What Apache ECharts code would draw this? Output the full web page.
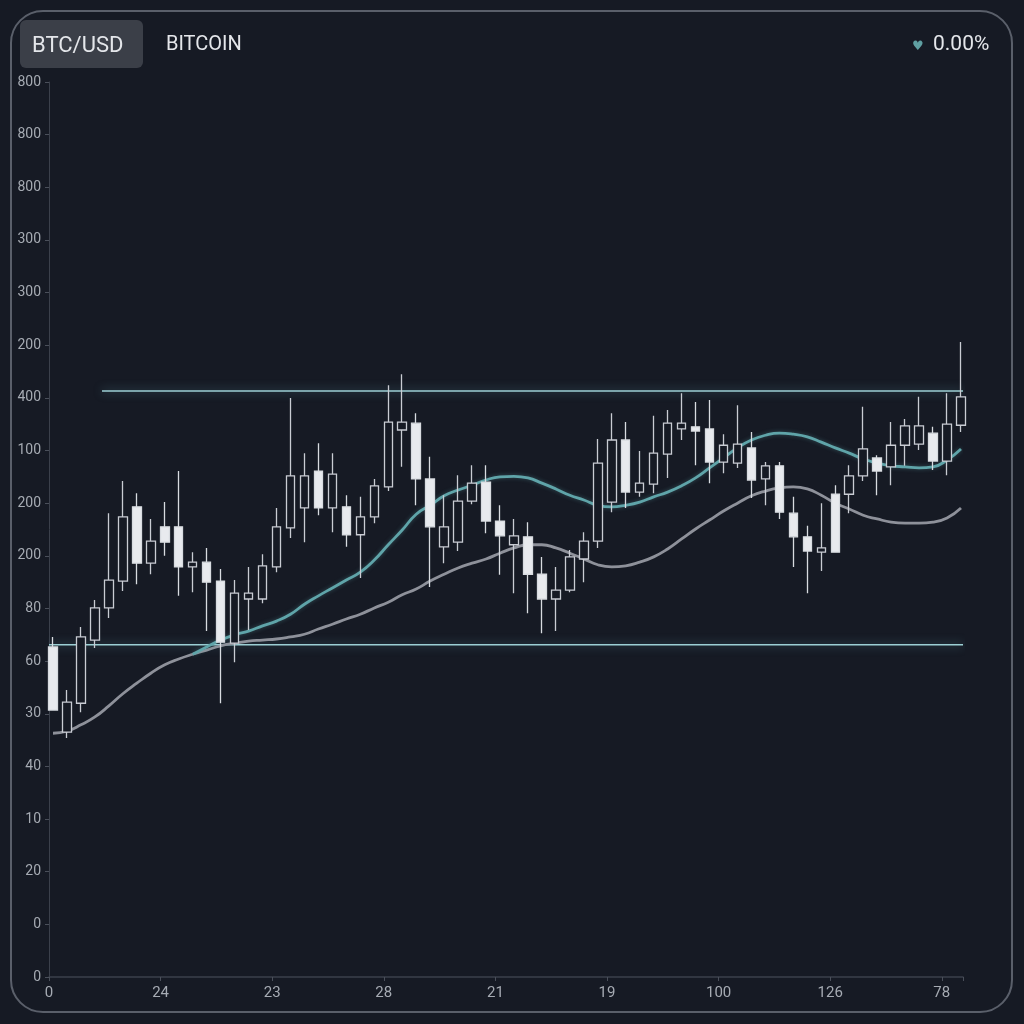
<!DOCTYPE html>
<html>
<head>
<meta charset="utf-8">
<script src="https://cdn.jsdelivr.net/npm/echarts@6/dist/echarts.min.js"></script>
<style>
html,body{margin:0;padding:0;background:#161a24;}
#c{width:1024px;height:1024px;}
</style>
</head>
<body>
<div id="c"></div>
<script>
// Tick labels (as printed in the reference)
const yLabels = ['0','0','20','10','40','30','60','80','200','200','100','400','200','300','300','800','800','800'];
const xLabels = ['0','24','23','28','21','19','100','126','78'];

// Candles: [open, close, low, high] in axis units (one unit per y tick)
const candles = [
  [6.27,5.07,5.07,6.46],[4.65,5.22,4.54,5.45],[5.20,6.46,5.03,6.65],[6.40,7.01,6.25,7.16],
  [7.01,7.54,6.82,8.81],[7.52,8.74,7.33,9.42],[8.93,7.86,7.46,9.19],[7.86,8.28,7.65,8.70],
  [8.55,8.26,8.00,9.02],[8.55,7.79,7.24,9.61],[7.79,7.88,7.31,8.07],[7.88,7.50,6.57,8.15],
  [7.52,6.36,5.20,7.75],[6.34,7.29,5.98,7.54],[7.18,7.29,6.59,7.79],[7.18,7.81,7.10,8.03],
  [7.79,8.55,7.69,8.91],[8.53,9.52,8.34,11.00],[8.91,9.52,8.26,9.95],[9.61,8.91,8.77,10.14],
  [8.91,9.55,8.45,9.95],[8.93,8.40,8.17,9.15],[8.40,8.74,7.58,9.12],[8.74,9.33,8.62,9.46],
  [9.31,10.54,9.23,11.24],[10.39,10.54,9.69,11.45],[10.52,9.46,8.96,10.71],[9.46,8.55,7.41,9.88],
  [8.17,8.55,7.86,9.15],[8.26,9.04,8.09,9.53],[9.04,9.38,8.98,9.72],[9.40,8.66,8.43,9.72],
  [8.66,8.38,7.64,8.96],[8.21,8.38,7.29,8.70],[8.36,7.65,6.91,8.64],[7.65,7.18,6.53,7.98],
  [7.18,7.35,6.57,7.79],[7.35,7.98,7.31,8.11],[7.94,8.28,7.50,8.45],[8.28,9.76,8.15,10.22],
  [9.02,10.20,8.83,10.71],[10.20,9.21,8.91,10.54],[9.21,9.38,9.12,9.99],[9.36,9.95,9.19,10.66],
  [9.93,10.52,9.48,10.77],[10.41,10.52,10.20,11.09],[10.45,10.37,9.72,10.92],[10.41,9.78,9.38,10.96],
  [9.78,10.10,9.57,10.31],[9.76,10.12,9.67,10.86],[10.05,9.44,9.10,10.35],[9.46,9.71,8.96,9.78],
  [9.71,8.83,8.70,9.78],[8.81,8.36,7.79,9.12],[8.36,8.09,7.29,8.57],[8.07,8.15,7.71,9.00],
  [9.17,8.07,8.07,9.34],[9.17,9.52,8.81,9.72],[9.52,10.03,9.42,10.83],[9.86,9.61,9.15,9.91],
  [9.69,10.10,9.34,10.54],[10.10,10.47,9.71,10.60],[10.12,10.47,10.01,11.02],[10.33,9.80,9.63,10.45],
  [9.80,10.50,9.53,11.09],[10.48,11.02,10.35,12.06]
];

// Moving averages
const maFast = [null,null,null,null,null,null,null,null,null,null,
  6.13,6.27,6.40,6.50,6.57,6.67,6.76,6.89,7.08,7.24,7.39,7.54,7.69,7.92,8.21,8.49,8.79,8.96,9.14,9.25,
  9.34,9.44,9.50,9.51,9.48,9.38,9.27,9.15,9.06,8.96,8.93,8.96,9.02,9.12,9.21,9.33,9.48,9.67,9.86,10.05,
  10.20,10.29,10.33,10.31,10.26,10.16,10.05,9.95,9.84,9.76,9.71,9.69,9.67,9.69,9.82,10.03];
const maSlow = [4.63,4.67,4.79,4.94,5.15,5.38,5.58,5.77,5.93,6.04,6.13,6.21,6.29,6.34,6.38,6.40,6.42,6.46,6.51,6.61,
  6.70,6.80,6.89,7.01,7.12,7.26,7.37,7.52,7.65,7.77,7.86,7.94,8.05,8.15,8.21,8.21,8.15,8.05,7.94,7.83,
  7.79,7.81,7.88,7.98,8.13,8.32,8.51,8.68,8.85,9.00,9.14,9.23,9.29,9.31,9.27,9.15,9.00,8.89,8.77,8.70,
  8.64,8.62,8.62,8.64,8.72,8.91];

// Horizontal levels (value, start on label axis, end on label axis)
const resistance = {value: 11.13, from: 0.475, to: 8.19};
const support = {value: 6.31, from: 0, to: 8.19};

const cats = candles.map((_, i) => String(i));

const chart = echarts.init(document.getElementById('c'));
const axisColor = '#3b404b';
const labelColor = '#a6abb3';
const glow = {shadowBlur: 10, shadowColor: 'rgba(130,210,220,0.55)'};

chart.setOption({
  backgroundColor: '#161a24',
  animation: false,
  graphic: [
    {type:'rect', shape:{x:11,y:11,width:1001,height:1001,r:32}, style:{fill:'none', stroke:'#5a5f6a', lineWidth:2}, z:0},
    {type:'rect', shape:{x:20,y:20,width:123,height:48,r:6}, style:{fill:'#3b3f48'}, z:1},
    {type:'text', left:32, top:35, style:{text:'BTC/USD', fill:'#e4e6ea', font:'22px Roboto, sans-serif'}, z:2},
    {type:'text', left:166, top:35, style:{text:'BITCOIN', fill:'#e4e6ea', font:'20px Roboto, sans-serif'}, z:2},
    {type:'text', left:912, top:40, style:{text:'♥', fill:'#5f9fa2', font:'13px "DejaVu Sans", sans-serif'}, z:2},
    {type:'text', left:933, top:34, style:{text:'0.00%', fill:'#e4e6ea', font:'21px Roboto, sans-serif'}, z:2}
  ],
  grid: [
    {left:49, right:61, top:82, bottom:47},
    {left:53, right:63, top:82, bottom:47}
  ],
  xAxis: [
    {type:'value', gridIndex:0, min:0, max:8.19, interval:1,
      axisLine:{show:true, lineStyle:{color:axisColor, width:1.5}},
      axisTick:{show:true, length:4, lineStyle:{color:'#4a4f5a'}},
      axisLabel:{color:labelColor, fontSize:15, margin:9, fontFamily:'Roboto, sans-serif',
        formatter:(v)=>{const i=Math.round(v); return Math.abs(v-i)<1e-6 && xLabels[i]!==undefined ? xLabels[i] : '';}},
      splitLine:{show:false}},
    {type:'category', gridIndex:1, data:cats, boundaryGap:false, show:false}
  ],
  yAxis: [
    {type:'value', gridIndex:0, min:0, max:17, interval:1,
      axisLine:{show:true, lineStyle:{color:axisColor, width:1}},
      axisTick:{show:true, length:4, lineStyle:{color:'#4a4f5a'}},
      axisLabel:{color:labelColor, fontSize:14, margin:8, fontFamily:'Roboto, sans-serif',
        formatter:(v)=>yLabels[Math.round(v)]},
      splitLine:{show:false}},
    {type:'value', gridIndex:1, min:0, max:17, show:false}
  ],
  series: [
    {type:'line', xAxisIndex:0, yAxisIndex:0, symbol:'none', silent:true,
      data:[[resistance.from, resistance.value],[resistance.to, resistance.value]],
      lineStyle:Object.assign({color:'#9ccfd4', width:1.6}, glow), z:3},
    {type:'line', xAxisIndex:0, yAxisIndex:0, symbol:'none', silent:true,
      data:[[support.from, support.value],[support.to, support.value]],
      lineStyle:Object.assign({color:'#9ccfd4', width:1.6}, glow), z:3},
    {type:'line', xAxisIndex:1, yAxisIndex:1, data:maSlow, smooth:0.5, symbol:'none',
      lineStyle:{color:'#8e919a', width:2.8}, z:4},
    {type:'line', xAxisIndex:1, yAxisIndex:1, data:maFast, smooth:0.5, symbol:'none', connectNulls:false,
      lineStyle:{color:'#5fa4a9', width:2.8, shadowBlur:4, shadowColor:'rgba(95,164,169,0.4)'}, z:4},
    {type:'candlestick', xAxisIndex:1, yAxisIndex:1, data:candles, barWidth:9, clip:false,
      itemStyle:{color:'#161a24', borderColor:'#c9ccd3', color0:'#e8eaee', borderColor0:'#d8dbe0', borderWidth:1.3},
      z:5}
  ]
});
</script>
</body>
</html>
